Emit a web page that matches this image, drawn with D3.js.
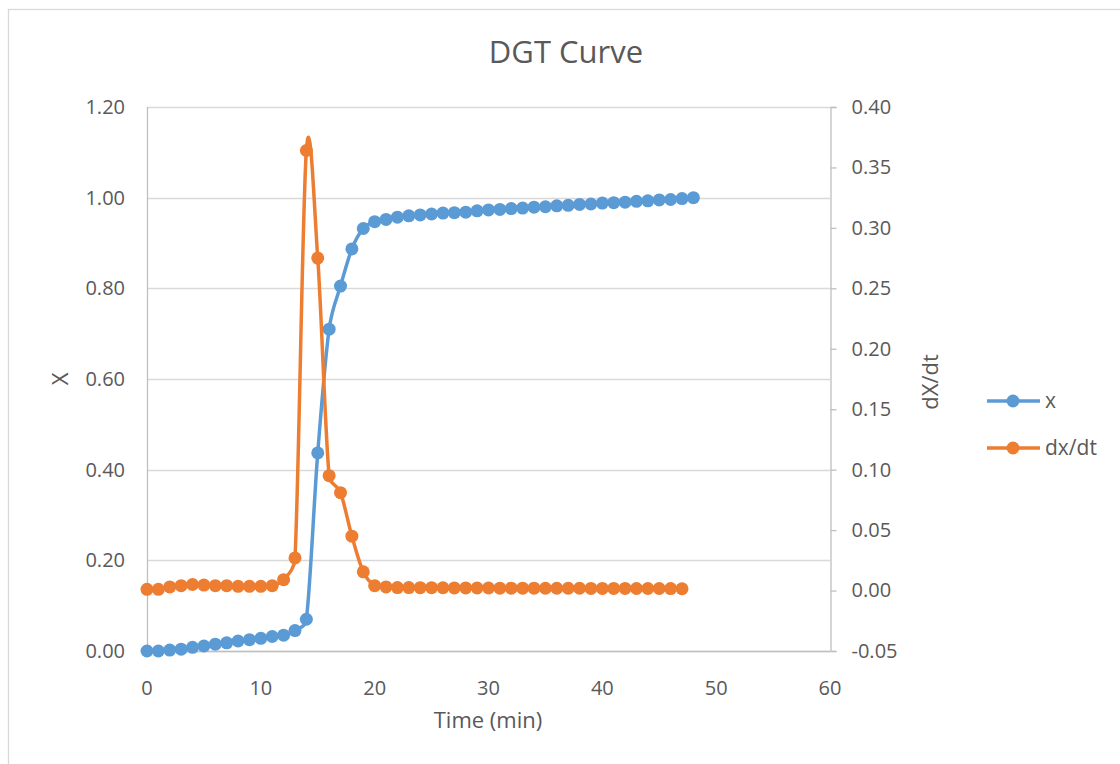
<!DOCTYPE html>
<html>
<head>
<meta charset="utf-8">
<script src="https://cdn.jsdelivr.net/npm/d3@7"></script>
<style>
    body { margin: 0; background: #fff; }
    text { font-family: "Open Sans", "Noto Sans", sans-serif; fill: #595959; }
</style>
</head>
<body>
<svg id="chart" width="1120" height="764"></svg>
<script>
// time steps (min)
const timeX = d3.range(0, 49)
const timeRate = d3.range(0, 48)

// conversion X (left axis)
const xValues = [
    0.000, 0.000, 0.002, 0.004, 0.008, 0.011, 0.015, 0.018, 0.022, 0.025,
    0.028, 0.032, 0.035, 0.045, 0.070, 0.437, 0.710, 0.805, 0.887, 0.932,
    0.947, 0.952, 0.957, 0.960, 0.962, 0.964, 0.966, 0.967, 0.968, 0.971,
    0.973, 0.974, 0.976, 0.977, 0.979, 0.980, 0.982, 0.983, 0.985, 0.986,
    0.988, 0.989, 0.990, 0.992, 0.993, 0.995, 0.996, 0.998, 1.000
]

// dX/dt (right axis)
const rateValues = [
    0.001, 0.001, 0.003, 0.004, 0.005, 0.0045, 0.004, 0.004, 0.0035, 0.0035,
    0.0035, 0.004, 0.009, 0.027, 0.364, 0.275, 0.095, 0.081, 0.045, 0.0155,
    0.004, 0.003, 0.0025, 0.0025, 0.0024, 0.0024, 0.0023, 0.0022, 0.0022, 0.0021,
    0.0021, 0.002, 0.002, 0.002, 0.002, 0.0019, 0.0019, 0.0019, 0.0019, 0.0018,
    0.0018, 0.0018, 0.0018, 0.0017, 0.0017, 0.0017, 0.0016, 0.0015
]

const xTicks = [0, 10, 20, 30, 40, 50, 60]
const leftTicks = [0, 0.2, 0.4, 0.6, 0.8, 1.0, 1.2]
const rightTicks = [-0.05, 0, 0.05, 0.1, 0.15, 0.2, 0.25, 0.3, 0.35, 0.4]

const blue = "#5B9BD5",
    orange = "#ED7D31"

let svg = d3.select("#chart"),
    plot = {left: 147, right: 830, top: 107, bottom: 651}

// chart area border
svg.append("rect")
    .attr("x", 8.5).attr("y", 9.5)
    .attr("width", 1200).attr("height", 900)
    .attr("fill", "#fff")
    .attr("stroke", "#D9D9D9")
    .attr("stroke-width", 1.3)

let xScale = d3.scaleLinear().domain([0, 60]).range([plot.left, plot.right]),
    yLeft = d3.scaleLinear().domain([0, 1.2]).range([plot.bottom, plot.top]),
    yRight = d3.scaleLinear().domain([-0.05, 0.4]).range([plot.bottom, plot.top])

// gridlines
svg.append("g")
    .selectAll("line")
    .data(leftTicks)
    .join("line")
    .attr("x1", plot.left).attr("x2", plot.right)
    .attr("y1", d => Math.round(yLeft(d)) + 0.5)
    .attr("y2", d => Math.round(yLeft(d)) + 0.5)
    .attr("stroke", "#D9D9D9")
    .attr("stroke-width", 1.3)

// axis lines
svg.append("line")
    .attr("x1", plot.left + 0.5).attr("x2", plot.left + 0.5)
    .attr("y1", plot.top).attr("y2", plot.bottom)
    .attr("stroke", "#BFBFBF").attr("stroke-width", 1.3)

svg.append("line")
    .attr("x1", plot.left).attr("x2", plot.right)
    .attr("y1", plot.bottom + 0.5).attr("y2", plot.bottom + 0.5)
    .attr("stroke", "#BFBFBF").attr("stroke-width", 1.3)

let rightAxis = d3.axisRight(yRight)
    .tickValues(rightTicks)
    .tickSize(6)
    .tickPadding(15)
    .tickFormat(d => d.toFixed(2))

let gRight = svg.append("g")
    .attr("transform", `translate(${plot.right + 0.5},0)`)
    .call(rightAxis)

gRight.select(".domain").attr("stroke", "#BFBFBF").attr("stroke-width", 1.3)
gRight.selectAll(".tick line").attr("stroke", "#BFBFBF").attr("stroke-width", 1.3)
gRight.selectAll(".tick text")
    .attr("fill", "#595959")
    .style("font-size", "20px")
    .style("font-family", "'Open Sans', sans-serif")

// left tick labels
svg.append("g")
    .selectAll("text")
    .data(leftTicks)
    .join("text")
    .attr("x", plot.left - 22)
    .attr("y", d => yLeft(d))
    .attr("dy", "0.35em")
    .attr("text-anchor", "end")
    .style("font-size", "20px")
    .text(d => d.toFixed(2))

// bottom tick labels
svg.append("g")
    .selectAll("text")
    .data(xTicks)
    .join("text")
    .attr("x", d => xScale(d))
    .attr("y", plot.bottom + 44)
    .attr("text-anchor", "middle")
    .style("font-size", "20px")
    .text(d => d)

// titles
svg.append("text")
    .attr("x", 566).attr("y", 63)
    .attr("text-anchor", "middle")
    .style("font-size", "31px")
    .text("DGT Curve")

svg.append("text")
    .attr("x", 488).attr("y", 728)
    .attr("text-anchor", "middle")
    .style("font-size", "22px")
    .text("Time (min)")

svg.append("text")
    .attr("transform", "translate(68,379) rotate(-90)")
    .attr("text-anchor", "middle")
    .style("font-size", "22px")
    .text("X")

svg.append("text")
    .attr("transform", "translate(938,382) rotate(-90)")
    .attr("text-anchor", "middle")
    .style("font-size", "22px")
    .text("dX/dt")


// smoothed line, like a spreadsheet: bezier arms of 1/6 the neighbour span,
// cut down when an arm gets longer than half its own segment
function smoothPath(pts) {
    let path = d3.path(),
        n = pts.length,
        arm = function(i) {
            let a = pts[Math.max(i - 1, 0)],
                b = pts[Math.min(i + 1, n - 1)]
            return [(b[0] - a[0]) / 6, (b[1] - a[1]) / 6]
        },
        clamp = function(t, len) {
            let l = Math.hypot(t[0], t[1]),
                k = l > len / 2 ? (len / 2) / l : 1
            return [t[0] * k, t[1] * k]
        }

    path.moveTo(pts[0][0], pts[0][1])

    for (let i = 0; i < n - 1; i++) {
        let p0 = pts[i], p1 = pts[i + 1],
            len = Math.hypot(p1[0] - p0[0], p1[1] - p0[1]),
            t0 = clamp(arm(i), len),
            t1 = clamp(arm(i + 1), len)

        path.bezierCurveTo(p0[0] + t0[0], p0[1] + t0[1], p1[0] - t1[0], p1[1] - t1[1], p1[0], p1[1])
    }

    return path.toString()
}

// series
function drawSeries(times, values, yScale, color) {
    let pts = times.map((t, i) => [xScale(t), yScale(values[i])])

    svg.append("path")
        .attr("d", smoothPath(pts))
        .attr("fill", "none")
        .attr("stroke", color)
        .attr("stroke-width", 3.5)
        .attr("stroke-linejoin", "round")

    svg.append("g")
        .selectAll("circle")
        .data(pts)
        .join("circle")
        .attr("cx", d => d[0])
        .attr("cy", d => d[1])
        .attr("r", 6.5)
        .attr("fill", color)
}

drawSeries(timeX, xValues, yLeft, blue)
drawSeries(timeRate, rateValues, yRight, orange)

// legend
let legend = svg.append("g")
    .selectAll("g")
    .data([{name: "x", color: blue, y: 401}, {name: "dx/dt", color: orange, y: 448}])
    .join("g")

legend.append("line")
    .attr("x1", 987).attr("x2", 1040)
    .attr("y1", d => d.y).attr("y2", d => d.y)
    .attr("stroke", d => d.color)
    .attr("stroke-width", 3.5)

legend.append("circle")
    .attr("cx", 1013).attr("cy", d => d.y)
    .attr("r", 6.5)
    .attr("fill", d => d.color)

legend.append("text")
    .attr("x", 1045).attr("y", d => d.y)
    .attr("dy", "0.35em")
    .style("font-size", "21px")
    .text(d => d.name)
</script>
</body>
</html>
